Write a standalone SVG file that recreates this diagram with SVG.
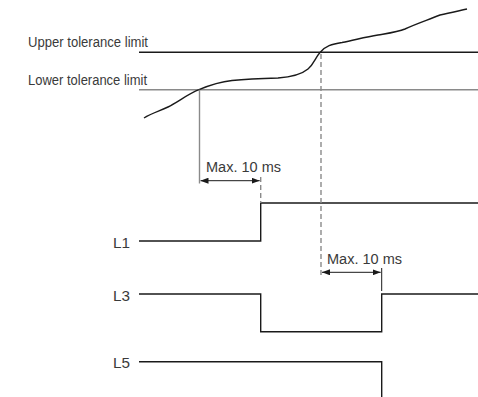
<svg xmlns="http://www.w3.org/2000/svg" width="478" height="397" viewBox="0 0 478 397">
<defs>
<style>
.lbl{font-family:"Liberation Sans",Arial,sans-serif;font-size:15.5px;fill:#3a3a3a}
.sig{fill:none;stroke:#1a1a1a;stroke-width:1.4}
.grey{fill:none;stroke:#8a8a8a;stroke-width:1.4}
.dash{fill:none;stroke:#8a8a8a;stroke-width:1.4;stroke-dasharray:5 3}
.dim{fill:none;stroke:#1a1a1a;stroke-width:1}
</style>
<marker id="ah" viewBox="0 0 8 6" refX="8" refY="3" markerWidth="8" markerHeight="6" orient="auto-start-reverse" markerUnits="userSpaceOnUse">
<path d="M0,0 L8,3 L0,6 Z" fill="#1a1a1a"/>
</marker>
</defs>
<rect width="478" height="397" fill="#fff"/>
<g id="upper-limit">
<line x1="139" y1="52.3" x2="478" y2="52.3" class="sig" stroke-width="1.2"/>
<text class="lbl" x="28" y="46.5" textLength="120" lengthAdjust="spacingAndGlyphs">Upper tolerance limit</text>
</g>
<g id="lower-limit">
<line x1="139" y1="89.7" x2="478" y2="89.7" class="grey"/>
<text class="lbl" x="28" y="85" textLength="119" lengthAdjust="spacingAndGlyphs">Lower tolerance limit</text>
</g>
<g id="curve">
<path class="sig" stroke-width="1.2" stroke-linejoin="round" d="M144,118 C152,113 160,111 168,107 C178,102 188,94 199,89.7 C210,85 218,82 232,80.5 C248,79 262,78.5 278,78 C292,77 302,74 308,69 C314,64 315,58 320,52.5 C325,46 332,44 342,42.5 C355,40 365,37 378,35 C390,33 398,32 405,29 C418,23 428,20 440,15 C450,13 458,11 467,9"/>
</g>
<g id="L1">
<text class="lbl" x="113" y="248" textLength="17" lengthAdjust="spacingAndGlyphs">L1</text>
<polyline class="sig" points="139,241 260.7,241 260.7,203 478,203"/>
</g>
<g id="L3">
<text class="lbl" x="113" y="301" textLength="17" lengthAdjust="spacingAndGlyphs">L3</text>
<polyline class="sig" points="139,294 260.7,294 260.7,331.7 381.7,331.7 381.7,294 478,294"/>
</g>
<g id="L5">
<text class="lbl" x="113" y="367.5" textLength="17" lengthAdjust="spacingAndGlyphs">L5</text>
<polyline class="sig" points="139,361.7 381.7,361.7 381.7,397"/>
</g>
<g id="connectors">
<line class="grey" x1="199.5" y1="89.7" x2="199.5" y2="183.5"/>
<line class="dash" x1="321" y1="54" x2="321" y2="277"/>
<line class="dash" x1="260.7" y1="177" x2="260.7" y2="203"/>
<line class="dim" x1="381.7" y1="268" x2="381.7" y2="291"/>
<line class="dim" x1="200.5" y1="180.7" x2="259.7" y2="180.7" marker-start="url(#ah)" marker-end="url(#ah)"/>
<line class="dim" x1="322" y1="272.3" x2="380.7" y2="272.3" marker-start="url(#ah)" marker-end="url(#ah)"/>
</g>
<g id="dim-label-1">
<text class="lbl" x="206" y="172" textLength="75" lengthAdjust="spacingAndGlyphs">Max. 10 ms</text>
</g>
<g id="dim-label-2">
<text class="lbl" x="327" y="264" textLength="75" lengthAdjust="spacingAndGlyphs">Max. 10 ms</text>
</g>
</svg>
